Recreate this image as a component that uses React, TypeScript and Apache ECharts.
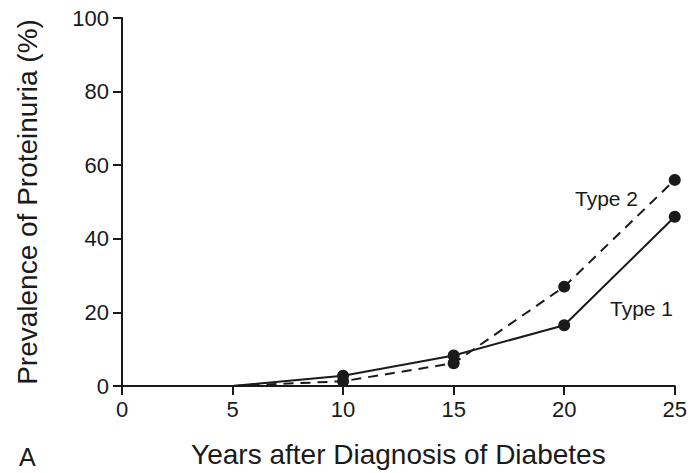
import React, { useEffect, useRef } from "react";
import * as echarts from "echarts";

const years = [5, 10, 15, 20, 25];
const type1 = [0, 2.8, 8.3, 16.5, 46];
const type2 = [0, 1.3, 6.2, 27, 56];
const xTicks = [0, 5, 10, 15, 20, 25];
const yTicks = [0, 20, 40, 60, 80, 100];

const FONT = "Liberation Sans, Arial, sans-serif";
const INK = "#1a1a1a";

function toData(vals: number[]) {
  return years.map((y, i) =>
    i === 0 ? { value: [y, vals[i]], symbol: "none" } : { value: [y, vals[i]] }
  );
}

export default function App() {
  const ref = useRef<HTMLDivElement>(null);
  useEffect(() => {
    if (!ref.current) return;
    const chart = echarts.init(ref.current, undefined, { renderer: "svg" });
    chart.setOption({
      animation: false,
      backgroundColor: "#fff",
      grid: { left: 122, right: 13, top: 18, bottom: 85 },
      xAxis: {
        type: "value",
        min: xTicks[0],
        max: xTicks[xTicks.length - 1],
        interval: 5,
        name: "Years after Diagnosis of Diabetes",
        nameLocation: "middle",
        nameGap: 54,
        nameTextStyle: { fontFamily: FONT, fontSize: 28, color: INK },
        axisLine: { lineStyle: { color: INK, width: 2 } },
        axisTick: { inside: false, length: 9, lineStyle: { color: INK, width: 2 } },
        axisLabel: { fontFamily: FONT, fontSize: 22, color: INK, margin: 12 },
        splitLine: { show: false },
      },
      yAxis: {
        type: "value",
        min: yTicks[0],
        max: yTicks[yTicks.length - 1],
        interval: 20,
        name: "Prevalence of Proteinuria (%)",
        nameLocation: "middle",
        nameGap: 81,
        nameTextStyle: { fontFamily: FONT, fontSize: 28, color: INK },
        axisLine: { show: true, lineStyle: { color: INK, width: 2 } },
        axisTick: { show: true, inside: false, length: 9, lineStyle: { color: INK, width: 2 } },
        axisLabel: { fontFamily: FONT, fontSize: 22, color: INK, margin: 13 },
        splitLine: { show: false },
      },
      graphic: [
        { type: "text", left: 575, top: 188, style: { text: "Type 2", fontFamily: FONT, fontSize: 21, fill: INK } },
        { type: "text", left: 610, top: 298, style: { text: "Type 1", fontFamily: FONT, fontSize: 21, fill: INK } },
        { type: "text", left: 19, top: 444, style: { text: "A", fontFamily: FONT, fontSize: 25, fill: INK } },
      ],
      series: [
        {
          name: "Type 1",
          type: "line",
          data: toData(type1),
          symbol: "circle",
          symbolSize: 12,
          itemStyle: { color: INK },
          lineStyle: { color: INK, width: 2, type: "solid" },
        },
        {
          name: "Type 2",
          type: "line",
          data: toData(type2),
          symbol: "circle",
          symbolSize: 12,
          itemStyle: { color: INK },
          lineStyle: { color: INK, width: 2, type: [10, 7] },
        },
      ],
    });
    return () => chart.dispose();
  }, []);
  return <div ref={ref} style={{ width: 690, height: 473, position: "absolute", left: 0, top: 0 }} />;
}
